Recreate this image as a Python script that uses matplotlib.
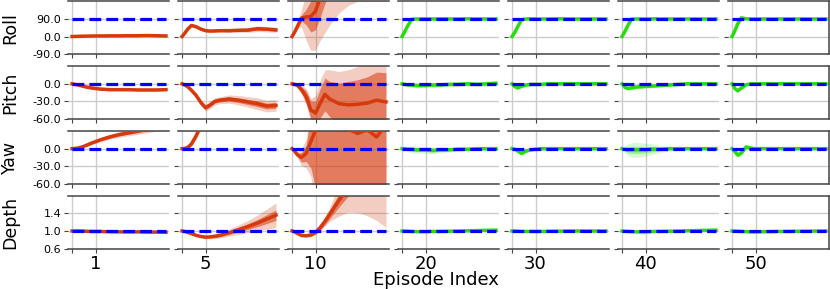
import numpy as np
import matplotlib.pyplot as plt

# time steps inside one episode (x of every panel)
steps = [0, 3, 6, 10, 15, 20, 25, 30, 35, 40, 50, 60, 70, 80, 90, 100]
episodes = ['1', '5', '10', '20', '30', '40', '50']
rows = ['Roll', 'Pitch', 'Yaw', 'Depth']
targets = [90.0, 0.0, 0.0, 1.0]
converged = [False, False, False, True, True, True, True]

# one list per episode column (1, 5, 10, 20, 30, 40, 50)
roll_mean = [
    [0, 0.5, 1, 1.5, 2, 2.5, 3, 3, 3, 3.5, 3.5, 4, 4, 5, 4, 3],
    [0, 18, 38, 57, 50, 38, 30, 28, 29, 30, 30, 32, 33, 40, 38, 34],
    [0, 25, 55, 95, 100, 103, 130, 200, 260, 320, 420, 500, 560, 600, 640, 680],
    [0, 27, 54, 88, 90, 90, 91, 90, 90, 91, 90, 90, 91, 90, 90, 90],
    [0, 22, 50, 86, 90, 91, 90, 90, 90, 90, 91, 90, 90, 90, 90, 90],
    [0, 25, 55, 89, 90, 90, 90, 90, 91, 90, 90, 90, 90, 90, 90, 90],
    [0, 30, 65, 96, 91, 90, 90, 90, 90, 90, 90, 90, 90, 90, 90, 90],
]
roll_inner = [
    [0, .5, .5, 1, 1, 1, 1, 1, 1, 1, 1.5, 1.5, 1.5, 1.5, 1.5, 1.5],
    [0, 1, 2, 3, 3, 3, 3, 3, 4, 4, 5, 5, 6, 7, 7, 7],
    [0, 3, 8, 15, 40, 80, 95, 100, 90, 100, 120, 140, 160, 180, 200, 220],
    [0, 1, 1.5, 2, 1.5, 1, 1, 1, 1, 1, 1, 1, 1, 1, 1, 1],
    [0, 1, 1.5, 2, 1.5, 1, 1, 1, 1, 1, 1, 1, 1, 1, 1, 1],
    [0, 1, 1.5, 2, 1.5, 1, 1, 1, 1, 1, 1, 1, 1, 1, 1, 1],
    [0, 1, 2, 2.5, 1.5, 1, 1, 1, 1, 1, 1, 1, 1, 1, 1, 1],
]
roll_outer = [
    [0, 1, 1, 2, 2, 2, 2, 2, 2, 2, 3, 3, 3, 3, 3, 3],
    [0, 2, 4, 6, 6, 6, 6, 6, 7, 8, 9, 10, 12, 14, 14, 13],
    [0, 5, 15, 45, 120, 175, 200, 220, 240, 260, 300, 340, 380, 420, 460, 500],
    [0, 2, 3, 4, 3, 2, 2, 2, 2, 2, 2, 2, 2, 2, 2, 2],
    [0, 2, 3, 4, 3, 2, 2, 2, 2, 2, 2, 2, 2, 2, 2, 2],
    [0, 2, 3, 4, 3, 2, 2, 2, 2, 2, 2, 2, 2, 2, 2, 2],
    [0, 2, 4, 5, 3, 2, 2, 2, 2, 2, 2, 2, 2, 2, 2, 2],
]

pitch_mean = [
    [0, -1, -2, -3.5, -5.5, -7, -8, -9, -9.5, -10, -10, -10, -10.5, -10.5, -10.5, -10],
    [0, -2, -5, -11, -20, -32, -41, -36, -30, -28, -26, -28, -31, -34, -38, -37],
    [0, -1, -3, -10, -22, -45, -50, -33, -18, -26, -34, -36, -35, -33, -28, -31],
    [0, -1, -2, -2, -3, -3, -3, -2, -2, -2, -1, -1, 0, -1, 0, 1],
    [0, -5, -7, -4, -2, -1, -1, -1, -0.5, 0, 0, 0, 0, 0, 0, 0],
    [0, -6, -8, -7, -5.5, -5, -4.5, -4, -3.5, -3, -2, -1, 0, 0, 0, 0],
    [0, -8, -12, -7, -1.5, 0, 0, 0, 0, 0, 0, 0, 0, 0, 0, 0],
]
pitch_inner = [
    [0, .3, .5, .5, .7, .8, 1, 1, 1, 1, 1, 1, 1, 1, 1, 1],
    [0, .5, 1, 1.5, 2, 2.5, 3, 3, 3, 3, 3.5, 4, 4.5, 5, 5, 5],
    [0, 1, 3, 5, 10, 15, 20, 25, 28, 30, 35, 40, 42, 45, 48, 50],
    [0, 1, 1.5, 2, 2, 2, 2, 2, 2, 2, 2, 2, 2, 2, 2, 2],
    [0, 1, 1.5, 2, 2, 2, 1.5, 1.5, 1.5, 1.5, 1.5, 1.5, 1.5, 1.5, 1.5, 1.5],
    [0, 1, 1.5, 2, 2, 2, 1.5, 1.5, 1.5, 1.5, 1.5, 1.5, 1.5, 1.5, 1.5, 1.5],
    [0, 1, 1.5, 2, 1.5, 1.5, 1, 1, 1, 1, 1, 1, 1, 1, 1, 1],
]
pitch_outer = [
    [0, .6, 1, 1, 1.4, 1.6, 2, 2, 2, 2, 2, 2, 2, 2, 2, 2],
    [0, 1, 2, 3, 4, 5, 6, 6, 6, 6, 7, 8, 9, 10, 10, 10],
    [0, 2, 5, 8, 14, 20, 30, 40, 42, 50, 55, 60, 65, 70, 70, 70],
    [0, 2, 3, 4, 4, 4, 4, 4, 4, 4, 4, 4, 4, 4, 4, 4],
    [0, 2, 3, 4, 3.5, 3, 3, 3, 3, 3, 3, 3, 3, 3, 3, 3],
    [0, 2, 3, 4, 3.5, 3, 3, 3, 3, 3, 3, 3, 3, 3, 3, 3],
    [0, 2, 3, 3.5, 3, 2.5, 2, 2, 2, 2, 2, 2, 2, 2, 2, 2],
]

yaw_mean = [
    [0, 0.3, 1, 2.5, 5.5, 9, 12, 15, 17.5, 20, 24, 27, 30, 33, 36, 38],
    [0, 0.5, 2, 8, 22, 40, 60, 80, 100, 120, 160, 200, 240, 280, 320, 360],
    [0, -5, -11, -15, -8, 12, 32, 40, 40, 40, 38, 33, 26, 32, 20, 40],
    [0, 0, -1, -1, -2, -2, -2, -3, -3, -2, -2, -1, -1, 0, 0, 0],
    [0, -1, -4, -8, -4, -2, -1, 0, 0, 0, 0, 0, 0, 0, 0, 0],
    [0, -1, -2, -2, -2, -2, -2, -1, -1, -1, 0, 0, 0, 0, 0, 0],
    [0, -5, -11, -7, 3, 1, 0, 0, 0, 0, 0, 0, 0, 0, 0, 0],
]
yaw_inner = [
    [0, .2, .4, .6, 1, 1.2, 1.5, 1.7, 2, 2, 2.3, 2.5, 2.8, 3, 3, 3],
    [0, .5, 1, 2, 3, 4, 5, 6, 7, 8, 10, 12, 14, 16, 18, 20],
    [0, 1, 3, 8, 14, 45, 100, 110, 110, 110, 110, 110, 110, 110, 110, 110],
    [0, 1, 2, 3, 3, 3, 3, 3, 3, 3, 2, 2, 2, 2, 2, 2],
    [0, 1, 2, 3, 2, 2, 1.5, 1.5, 1.5, 1.5, 1.5, 1.5, 1.5, 1.5, 1.5, 1.5],
    [0, 3, 5, 6, 6, 6, 5, 5, 4, 3, 2, 2, 1.5, 1.5, 1.5, 1.5],
    [0, 2, 3, 3, 2, 1.5, 1, 1, 1, 1, 1, 1, 1, 1, 1, 1],
]
yaw_outer = [
    [0, .4, .8, 1.2, 2, 2.4, 3, 3.4, 4, 4, 4.6, 5, 5.6, 6, 6, 6],
    [0, 1, 2, 4, 6, 8, 10, 12, 14, 16, 20, 24, 28, 32, 36, 40],
    [0, 2, 6, 14, 25, 60, 130, 140, 140, 140, 140, 140, 140, 140, 140, 140],
    [0, 2, 4, 6, 6, 6, 6, 6, 5, 5, 4, 4, 3, 3, 3, 3],
    [0, 2, 3, 4, 3, 3, 2.5, 2.5, 2.5, 2.5, 2.5, 2.5, 2.5, 2.5, 2.5, 2.5],
    [0, 6, 10, 12, 13, 12, 11, 10, 8, 6, 4, 3, 2.5, 2.5, 2.5, 2.5],
    [0, 3, 4, 4, 3, 2, 1.5, 1.5, 1.5, 1.5, 1.5, 1.5, 1.5, 1.5, 1.5, 1.5],
]

depth_mean = [
    [1.0, 1.0, 1.0, 1.0, 0.995, 0.99, 0.99, 0.99, 0.985, 0.985, 0.98, 0.98, 0.98, 0.975, 0.975, 0.97],
    [1.0, 0.99, 0.97, 0.94, 0.9, 0.875, 0.86, 0.865, 0.88, 0.9, 0.96, 1.03, 1.1, 1.18, 1.27, 1.36],
    [1.0, 0.98, 0.94, 0.9, 0.89, 0.91, 0.97, 1.08, 1.22, 1.38, 1.7, 2.0, 2.3, 2.6, 2.9, 3.2],
    [1.0, 1.0, 0.995, 0.99, 0.985, 0.985, 0.985, 0.99, 0.99, 0.99, 0.995, 1.0, 1.005, 1.01, 1.015, 1.02],
    [1.0, 1.0, 0.995, 0.99, 0.99, 0.99, 0.99, 0.99, 0.99, 0.995, 0.995, 1.0, 1.0, 1.0, 1.0, 1.0],
    [1.0, 0.995, 0.99, 0.985, 0.98, 0.98, 0.98, 0.985, 0.99, 0.99, 0.995, 1.0, 1.005, 1.01, 1.015, 1.02],
    [1.0, 1.0, 0.995, 0.99, 0.985, 0.98, 0.98, 0.98, 0.985, 0.985, 0.99, 0.99, 0.995, 0.995, 1.0, 1.0],
]
depth_inner = [
    [0, .003, .005, .005, .005, .005, .005, .005, .005, .005, .005, .005, .005, .005, .005, .005],
    [0, .005, .01, .01, .015, .02, .02, .02, .025, .03, .04, .05, .065, .08, .1, .12],
    [0, .005, .01, .015, .02, .03, .04, .06, .08, .1, .15, .2, .3, .4, .5, .6],
    [0, .005, .01, .01, .01, .01, .01, .01, .01, .01, .01, .01, .01, .01, .01, .01],
    [0, .005, .01, .01, .01, .01, .01, .01, .01, .01, .01, .01, .01, .01, .01, .01],
    [0, .005, .01, .01, .01, .01, .01, .01, .01, .01, .01, .01, .01, .01, .01, .01],
    [0, .005, .01, .01, .01, .01, .01, .01, .01, .01, .01, .01, .01, .01, .01, .01],
]
depth_outer = [
    [0, .006, .01, .01, .01, .01, .01, .01, .01, .01, .01, .01, .01, .01, .01, .01],
    [0, .01, .015, .02, .025, .03, .035, .04, .05, .06, .08, .11, .14, .18, .23, .28],
    [0, .01, .02, .025, .03, .04, .05, .06, .1, .16, .36, .57, .88, 1.25, 1.66, 2.12],
    [0, .01, .015, .02, .02, .02, .02, .02, .02, .02, .02, .02, .02, .02, .02, .02],
    [0, .01, .015, .02, .02, .02, .02, .02, .02, .02, .02, .02, .02, .02, .02, .02],
    [0, .01, .015, .02, .02, .02, .02, .02, .02, .02, .02, .02, .02, .02, .02, .02],
    [0, .01, .015, .02, .02, .02, .02, .02, .02, .02, .02, .02, .02, .02, .02, .02],
]

means = [roll_mean, pitch_mean, yaw_mean, depth_mean]
inners = [roll_inner, pitch_inner, yaw_inner, depth_inner]
outers = [roll_outer, pitch_outer, yaw_outer, depth_outer]
ylims = [(-90, 180), (-60, 30), (-60, 30), (0.6, 1.8)]
yticks = [[-90, 0, 90], [-60, -30, 0], [-60, -30, 0], [0.6, 1.0, 1.4]]

red = '#d63a0c'
green = '#28dc0e'
spine_col = '#444444'

fig, axes = plt.subplots(4, 7, figsize=(8.3, 2.89), dpi=100)
fig.subplots_adjust(left=0.082, right=0.9985, top=0.995, bottom=0.14,
                    wspace=0.092, hspace=0.232)

x = np.array(steps)
for r in range(4):
    for c in range(7):
        ax = axes[r, c]
        m = np.array(means[r][c])
        s1 = np.array(inners[r][c])
        s2 = np.array(outers[r][c])
        col = green if converged[c] else red
        a1, a2 = (0.35, 0.18) if converged[c] else (0.55, 0.25)
        ax.fill_between(x, m - s2, m + s2, color=col, alpha=a2, lw=0, zorder=2)
        ax.fill_between(x, m - s1, m + s1, color=col, alpha=a1, lw=0, zorder=2)
        ax.plot(x, m, color=col, lw=2.5, zorder=3)
        ax.plot([x[0], x[-1]], [targets[r], targets[r]], color='#0000ff',
                ls='--', lw=2.3, zorder=4)

        ax.set_xlim(-4.3, 103)
        ax.set_ylim(*ylims[r])
        ax.set_xticks([0, 25])
        if r == 3:
            ax.set_xticklabels(['', episodes[c]], fontsize=13)
        else:
            ax.set_xticklabels([])
        ax.set_yticks(yticks[r])
        if c == 0:
            ax.set_yticklabels([f'{v:.1f}' for v in yticks[r]], fontsize=8)
        else:
            ax.set_yticklabels([])
        ax.tick_params(length=3, width=0.8, color=spine_col, pad=2)
        ax.tick_params(axis='x', pad=1.5)
        ax.grid(True, color='#cccccc', lw=1.0, zorder=0)
        ax.set_axisbelow(True)
        for side in ['top', 'bottom']:
            ax.spines[side].set_color(spine_col)
            ax.spines[side].set_linewidth(1.1)
        ax.spines['left'].set_visible(False)
        if c == 6:
            ax.spines['right'].set_color(spine_col)
            ax.spines['right'].set_linewidth(1.1)
        else:
            ax.spines['right'].set_visible(False)

    pos = axes[r, 0].get_position()
    fig.text(10 / 830, (pos.y0 + pos.y1) / 2, rows[r], rotation=90,
             ha='center', va='center', fontsize=12.5)

fig.text(436 / 830, 1 - 280 / 289, 'Episode Index', ha='center', va='center', fontsize=13)

fig.savefig('out.png', dpi=100)
